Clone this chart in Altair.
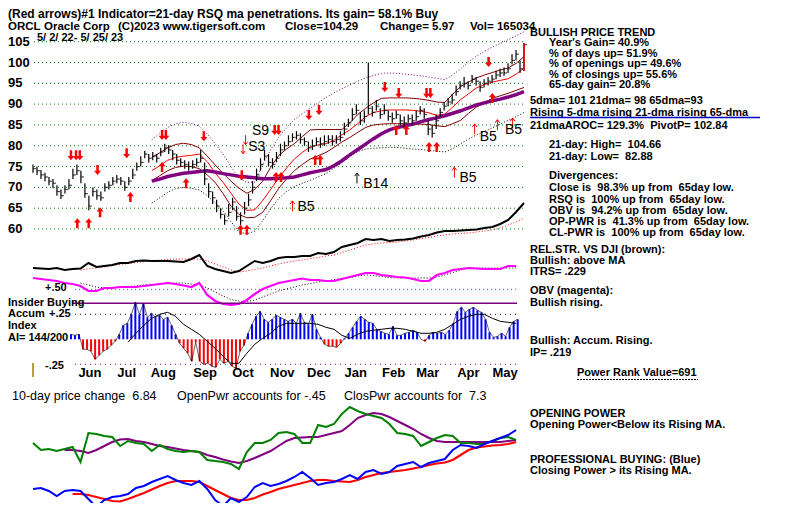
import altair as alt
import pandas as pd

# ------------------------------------------------------------------ data
START = "2022-05-02"
END = "2023-05-25"

CLOSE = [74.5, 74, 73, 72.5, 71.5, 71, 69, 68, 69.5, 70.5,
         73, 74, 72.5, 68.5, 65.5, 69, 68, 67.5, 70, 70.5,
         71.5, 72, 71.5, 70, 71.5, 73, 75, 76, 78, 77,
         77.5, 77, 78.5, 79.5, 79, 78, 76.5, 76, 75.5, 75,
         75.5, 76, 77, 72, 69, 67.5, 65.5, 63.5, 62, 64,
         66.5, 63, 62, 65, 67, 70, 73, 75.5, 77.5, 76,
         75.5, 77, 79, 80, 81, 82, 82.5, 81.5, 81, 79.5,
         80, 81, 80.5, 81, 81.5, 81, 81.5, 82, 84, 85.5,
         87.5, 88.5, 86, 87, 89, 88, 89.5, 87.5, 88.5, 87,
         86.5, 87.5, 86, 85.5, 86.5, 86, 87, 88.5, 87.5, 84,
         83, 86, 88, 89.5, 90.5, 91, 93, 94.5, 95, 94.5,
         96, 95.5, 94, 95, 95.5, 96, 97, 97.5, 97.5, 98.5,
         100.5, 102, 98.5, 104.29]
HIGH = [75.5, 75, 74.2, 73.5, 72.5, 72, 70.5, 69.5, 70.5, 72,
        74.5, 75.5, 74, 71, 68, 70, 69.5, 69, 71, 71.5,
        72.5, 73, 72.5, 71.5, 72.5, 74.5, 76, 77.5, 78.8, 78,
        78.5, 78, 79.5, 80.5, 80.2, 79, 78, 77, 76.5, 76.2,
        76.5, 77, 79, 76, 71, 69, 67, 65, 63.5, 66,
        67.5, 65.5, 64, 66.5, 68.5, 71.5, 74.5, 77, 79, 78,
        77, 78.5, 80.5, 81, 82.5, 83, 83.5, 83, 82, 81,
        81.5, 82, 82, 82.5, 82.5, 82.5, 82.5, 83.5, 85.5, 86.5,
        89, 90, 88, 88.5, 100, 89.5, 91, 89, 90, 88.5,
        88, 88.5, 87.5, 87, 87.5, 87.5, 88.5, 89.5, 89, 86,
        85, 87.5, 89, 90.5, 91.5, 92.5, 94.5, 95.5, 96.5, 95.5,
        97, 96.5, 95.5, 96, 96.5, 97, 98, 98.5, 98.8, 99.8,
        102, 103, 100.5, 104.66]
LOW = [73.5, 73, 72, 71.5, 70.5, 69.8, 68, 67.2, 68.5, 69.5,
       72, 73, 71, 67.5, 64.5, 67.8, 67, 66.8, 69, 69.5,
       70.5, 71, 70.5, 69.2, 70.5, 72, 74, 75, 77, 76,
       76.5, 76, 77.5, 78.5, 78, 76.5, 75.5, 75, 74.5, 74,
       74.5, 75, 76, 70.5, 67.5, 66, 64, 62.5, 61, 63,
       64.5, 62, 61, 63.5, 65.5, 68.5, 71.5, 74, 76.5, 75,
       74.5, 76, 77.5, 79, 80, 81, 81.5, 80.5, 80, 78.5,
       79, 80, 79.5, 80, 80.5, 80, 80.5, 81, 82.5, 84.5,
       86, 87.5, 85, 85.5, 87.5, 87, 88.5, 86.5, 87.5, 86,
       85.5, 86.5, 85, 84.5, 85.5, 85, 86, 87.5, 86.5, 82.5,
       82, 84, 87, 88.5, 89.5, 90, 92, 93.5, 94, 93.5,
       95, 94.5, 93, 94, 94.5, 95, 96, 96.5, 96.8, 97.5,
       99.5, 100.5, 97.5, 98]

MA65 = [71.5, 72.0, 72.6, 73.0, 73.4, 73.6, 73.8, 74.0, 73.7, 73.3,
        73.0, 72.7, 72.5, 72.3, 72.1, 72.1, 72.2, 72.3, 72.5, 73.0,
        73.5, 73.9, 74.3, 75.2, 76.4, 77.8, 79.1, 80.4, 81.7, 82.9,
        83.8, 84.4, 84.8, 85.2, 85.8, 86.3, 86.7, 87.2, 87.8, 88.4,
        89.1, 89.8, 90.3, 90.8, 91.2, 91.7, 92.3, 93.0]
MID = [74.0, 75.2, 76.5, 77.2, 77.5, 77.7, 78.0, 76.2, 73.5, 71.2,
       68.6, 66.0, 64.5, 64.6, 66.8, 69.5, 72.2, 74.6, 76.8, 78.4,
       79.7, 80.2, 80.5, 81.3, 82.6, 83.8, 85.3, 87.0, 88.0, 88.4,
       88.6, 88.6, 88.6, 88.5, 88.3, 87.9, 87.3, 87.6, 89.3, 91.1,
       92.5, 93.9, 94.7, 95.3, 95.7, 96.1, 97.2, 98.6]
UP1 = [77.2, 78.3, 79.5, 80.3, 80.6, 80.3, 79.5, 77.5, 75.4, 73.4,
       71.5, 69.8, 68.6, 69.5, 71.5, 74.8, 77.6, 79.2, 80.5, 82.2,
       83.8, 83.9, 83.9, 83.9, 83.9, 85.5, 87.5, 89.0, 90.3, 91.4,
       91.5, 91.5, 91.5, 91.4, 91.2, 90.9, 90.5, 90.4, 92.4, 94.2,
       95.3, 96.3, 97.0, 97.6, 98.2, 98.7, 99.8, 101.4]
LO1 = [71.6, 72.8, 74.0, 74.8, 75.1, 75.0, 74.5, 73.0, 71.2, 68.5,
       65.5, 63.5, 62.7, 62.8, 64.0, 66.8, 69.7, 72.0, 74.0, 75.5,
       76.8, 77.6, 78.4, 79.6, 80.9, 82.0, 83.2, 84.4, 85.0, 85.2,
       85.3, 85.3, 85.3, 85.2, 85.2, 85.1, 84.8, 84.6, 85.3, 86.1,
       87.8, 89.3, 90.3, 91.4, 92.0, 92.6, 93.3, 94.0]
UP2 = [81.4, 83.0, 84.4, 85.3, 85.6, 85.4, 84.7, 82.8, 80.5, 78.0,
       75.0, 72.2, 71.2, 71.3, 75.5, 79.0, 82.0, 84.3, 86.3, 87.7,
       89.0, 90.3, 91.6, 92.7, 93.7, 94.6, 95.5, 96.3, 96.9, 97.4,
       97.5, 97.4, 97.2, 97.0, 96.8, 96.5, 96.2, 95.9, 97.0, 98.5,
       100.2, 101.5, 102.7, 103.7, 104.6, 105.5, 106.4, 107.4]
LO2 = [66.2, 67.5, 68.8, 69.7, 70.0, 69.8, 69.4, 68.0, 66.3, 64.4,
       61.8, 59.3, 58.8, 59.5, 62.0, 64.8, 67.3, 69.0, 70.2, 71.0,
       71.7, 72.5, 73.3, 74.6, 75.9, 77.4, 78.6, 79.2, 79.4, 79.5,
       79.6, 79.6, 79.4, 79.2, 79.1, 78.9, 78.7, 78.5, 79.3, 80.5,
       81.6, 82.6, 83.4, 84.3, 85.2, 86.1, 87.0, 88.0]

RS = [12, 11.5, 11, 12, 10, 11, 11.5, 17, 13, 14,
      15, 17, 17, 19, 19.5, 19, 19, 19, 18.5, 18,
      21, 25, 14, 11, 9, 7, 9, 14, 19, 17,
      19, 22, 23, 23, 24, 24, 27, 26, 28, 33,
      35, 37, 41, 40, 41, 39, 40, 40.5, 41.5, 43.5,
      45, 47.5, 49, 49, 49.5, 50, 50.5, 52, 53, 56,
      60, 68, 77]
RS_MA = [10, 11, 12, 13, 14.5, 15.5, 16.5, 17.5, 18.5, 19.5,
         20, 20.5, 21, 21, 21, 21, 19, 16, 13, 10,
         8, 9, 10.5, 12, 14, 16, 17.5, 19, 20, 21.5,
         22.5, 24, 25, 27.5, 30, 32.5, 35, 36, 37, 37.5,
         38, 39, 40, 41.5, 42.5, 44, 45, 46, 46.5, 47,
         48, 49, 50, 52, 55, 58, 62]
OBV = [42, 41, 40, 39, 37, 36, 34, 29, 29, 32,
       32, 33, 33, 33, 34, 35, 36, 37, 36, 34.5,
       33, 37, 25, 19, 16, 15, 16, 20, 26, 31,
       34, 37, 38.5, 40, 41.5, 40, 40, 39, 39, 41,
       43, 45, 47, 47, 45, 44, 43, 42.5, 41, 39,
       39, 45, 47, 50, 51, 52, 51.5, 51, 51, 51,
       54, 54]
OBV_MA = [37, 35, 33, 32, 32.5, 33, 33.5, 34, 35, 35.5,
          36, 36.5, 37, 37, 36, 35, 32, 28, 24, 20.5,
          19, 18, 20, 23, 26, 29, 31, 33, 35, 36.5,
          38, 39, 40.5, 41.5, 42.5, 44, 45, 44.5, 43.5, 42.5,
          42, 42, 42, 42, 42, 43, 45, 47.5, 50, 52,
          52, 52, 52, 52, 52, 52]
AI = [0.05, 0.04, 0.05, -0.1, -0.1, -0.12, -0.2, -0.16, -0.12, -0.1,
      -0.06, -0.02, 0.05, 0.14, 0.16, 0.25, 0.37, 0.25, 0.36, 0.22,
      0.26, 0.22, 0.24, 0.2, 0.22, 0.14, 0.05, -0.04, -0.09, -0.14,
      -0.22, -0.03, -0.22, -0.25, -0.24, -0.27, -0.28, -0.2, -0.24, -0.22,
      -0.27, -0.29, -0.12, -0.06, 0.06, 0.15, 0.23, 0.28, 0.2, 0.17,
      0.2, 0.24, 0.22, 0.2, 0.18, 0.2, 0.16, 0.26, 0.17, 0.15,
      0.25, 0.1, 0.02, -0.05, -0.07, -0.07, -0.08, -0.04, 0.01, 0.06,
      0.12, 0.18, 0.23, 0.2, 0.17, 0.16, 0.1, 0.08, 0.06, 0.05,
      0.13, 0.04, 0.04, 0.06, 0.07, 0.09, 0.07, 0.0, -0.02, 0.04,
      0.07, 0.06, 0.07, 0.05, 0.09, 0.16, 0.28, 0.32, 0.27, 0.3,
      0.32, 0.29, 0.27, 0.2, 0.07, 0.02, 0.03, 0.06, 0.03, 0.12,
      0.18, 0.2]
AI_MA = [-0.03, 0.06, 0.14, 0.21, 0.25, 0.27, 0.23, 0.15, 0.1, 0.05,
         -0.02, -0.09, -0.17, -0.24, -0.24, -0.14, -0.05, 0.01, 0.06, 0.13,
         0.16, 0.16, 0.16, 0.16, 0.15, 0.12, 0.1, 0.04, 0.01, 0.05,
         0.08, 0.09, 0.1, 0.11, 0.11, 0.1, 0.08, 0.06, 0.06, 0.07,
         0.1, 0.15, 0.2, 0.23, 0.25, 0.25, 0.21, 0.18, 0.17, 0.16]
OP = [77, 70, 71, 69, 71, 73, 58, 87, 86, 84,
      83, 74, 79, 77, 76, 69, 75, 71, 69, 68,
      69, 68, 60, 59, 58, 56, 51, 68, 77, 77,
      80, 87, 88, 86, 77, 77, 95, 93, 96, 106,
      113, 109, 106, 104, 102, 96, 87, 86, 84, 74,
      78, 82, 85, 84, 77, 77, 76, 76, 79, 82,
      83, 80]
OP_MA = [70, 70, 69, 67, 70, 74, 78, 80.5, 81, 79,
         78, 76, 74, 73, 71.5, 70, 69, 68, 65, 63,
         60.5, 58.5, 57, 59, 62, 65.5, 69, 74, 79, 82,
         82.5, 83, 83, 85, 87, 89, 95, 102, 105, 107,
         106, 103, 99, 95, 91, 86, 82, 79, 78, 78,
         78, 78, 78, 78, 78, 78, 79, 80]
CP = [31, 32, 29, 24, 29, 30, 29, 21, 13, 20,
      23, 24, 26, 32, 34, 38, 41, 44, 40, 37,
      35, 39, 31, 20, 14, 22, 18, 23, 33, 37,
      34, 36, 39, 43, 48, 42, 35, 37, 38, 41,
      45, 41, 48, 50, 46, 48, 54, 56, 58, 53,
      57, 59, 61, 70, 75, 74, 72, 76, 79, 82,
      85, 90]
CP_MA = [26, 26, 25, 23, 21, 19, 18.5, 21, 24, 27,
         30.5, 34, 37, 39, 39, 39, 38, 34, 30, 26,
         22, 20, 20, 22, 25.5, 28, 31, 33, 35, 37,
         39, 40, 40, 39, 38.5, 38, 40, 43, 45, 47,
         48, 49, 50, 51.5, 53, 55, 56.5, 57.5, 60, 65,
         70, 72.5, 73.5, 74.5, 75, 76, 78]

DOWN_DATES = ["2022-06-01", "2022-06-05", "2022-06-08", "2022-06-22", "2022-07-15",
              "2022-08-12", "2022-08-15", "2022-09-14", "2022-10-14", "2022-11-09",
              "2022-11-12", "2022-12-06", "2022-12-14", "2023-02-04", "2023-02-15",
              "2023-03-09", "2023-03-12", "2023-04-27"]
DOWN_PRICES = [77.7, 77.7, 77.7, 74.2, 78.2, 82.6, 82.6, 82.3, 72.9, 83.8,
               83.8, 87.4, 88.6, 94.1, 92.7, 92.7, 92.7, 100.1]
UP_DATES = ["2022-06-06", "2022-06-15", "2022-06-24", "2022-07-18", "2022-08-12",
            "2022-08-31", "2022-10-13", "2022-10-18", "2022-11-10", "2022-11-14",
            "2022-12-11", "2022-12-15", "2023-02-13", "2023-02-21", "2023-03-11",
            "2023-03-17", "2023-04-30"]
UP_PRICES = [61.4, 61.4, 64.0, 67.7, 74.9, 71.0, 59.8, 59.8, 72.5, 72.5,
             76.6, 76.6, 83.8, 83.8, 79.7, 79.7, 91.5]
THIN_DOWN_DATES = ["2022-10-17", "2022-10-15"]
THIN_DOWN_PRICES = [81.4, 79.2]
THIN_UP_DATES = ["2022-11-23", "2023-03-31", "2023-04-16", "2023-05-04", "2023-05-16"]
THIN_UP_PRICES = [65.5, 73.6, 84.0, 85.0, 85.4]
THIN_UP_BLACK_DATES = ["2023-01-13"]
THIN_UP_BLACK_PRICES = [72.2]
SIG_TEXT = ["S9", "S3", "B14", "B5", "B5", "B5", "B5"]
SIG_DATES = ["2022-10-22", "2022-10-19", "2023-01-18", "2022-11-27", "2023-04-04",
             "2023-04-20", "2023-05-10"]
SIG_PRICES = [83.5, 79.7, 70.8, 65.3, 72.2, 82.1, 83.8]

PRICE_TICKS = [60, 65, 70, 75, 80, 85, 90, 95, 100, 105]
MONTHS = ["Jun", "Jul", "Aug", "Sep", "Oct", "Nov", "Dec", "Jan", "Feb", "Mar", "Apr", "May"]
MONTH_DATES = ["2022-06-16", "2022-07-15", "2022-08-13", "2022-09-15", "2022-10-15",
               "2022-11-15", "2022-12-14", "2023-01-12", "2023-02-11", "2023-03-10",
               "2023-04-11", "2023-05-10"]

TITLE1 = "(Red arrows)#1 Indicator=21-day RSQ ma penetrations. Its gain= 58.1% Buy"
TITLE2 = ["ORCL", "Oracle Corp", "(C)2023 www.tigersoft.com", "Close=", "104.29",
          "Change= 5.97", "Vol= 165034"]
DATE_SPAN = "5/ 2/ 22- 5/ 25/ 23"
S2 = "\u00a0 "
RIGHT_LINES = [
    "BULLISH PRICE TREND",
    "Year's Gain= 40.9%",
    "% of days up= 51.9%",
    "% of openings up= 49.6%",
    "% of closings up= 55.6%",
    "65-day gain= 20.8%",
    "5dma= 101 21dma= 98 65dma=93",
    "Rising 5-dma rising 21-dma rising 65-dma",
    "21dmaAROC= 129.3%" + S2 + "PivotP= 102.84",
    "21-day: High=" + S2 + "104.66",
    "21-day: Low=" + S2 + "82.88",
    "Divergences:",
    "Close is" + S2 + "98.3% up from" + S2 + "65day low.",
    "RSQ is" + S2 + "100% up from" + S2 + "65day low.",
    "OBV is" + S2 + "94.2% up from" + S2 + "65day low.",
    "OP-PWR is" + S2 + "41.3% up from" + S2 + "65day low.",
    "CL-PWR is" + S2 + "100% up from" + S2 + "65day low.",
    "REL.STR. VS DJI (brown):",
    "Bullish: above MA",
    "ITRS= .229",
    "OBV (magenta):",
    "Bullish rising.",
    "Bullish: Accum. Rising.",
    "IP= .219",
    "Power Rank Value=691",
    "OPENING POWER",
    "Opening Power<Below its Rising MA.",
    "PROFESSIONAL BUYING: (Blue)",
    "Closing Power > its Rising MA.",
]
LEFT_LINES = ["Insider Buying", "Accum", "Index", "AI= 144/200"]
AI_LEVEL_TEXT = ["+.50", "+.25", "-.25"]
AI_LEVELS = [0.5, 0.25, -0.25]
INSIDER_LEVEL = 0.36
BOTTOM_LINES = ["10-day price change" + S2 + "6.84",
                "OpenPwr accounts for -.45",
                "ClosPwr accounts for" + S2 + "7.3"]

# ------------------------------------------------------------------ helpers
T0 = pd.Timestamp(START)


def days(dates):
    return [(pd.Timestamp(t) - T0) / pd.Timedelta(days=1) for t in dates]


G124 = pd.date_range(START, END, periods=124)
G63 = pd.date_range(START, END, periods=63)
GAI = pd.date_range("2022-06-01", "2023-05-20", periods=112)
SPAN = days([END])[0]

XS = alt.Scale(domain=[0, SPAN], range=[25, 516], nice=False, zero=False)


def X(f="d"):
    return alt.X(f"{f}:Q", scale=XS, axis=None)


def yscale(dom, rng):
    return alt.Scale(domain=dom, range=rng, nice=False, zero=False)


PY = yscale([60, 105], [221, 33.7])
RSY = yscale([0, 100], [272, 172])
OBVY = yscale([0, 100], [312, 212])
AIY = yscale([-0.5, 0.5], [381.3, 281.3])
PWY = yscale([0, 120], [512, 392])

SANS = "Liberation Sans, Arial, sans-serif"
ONE = pd.DataFrame({"a": [0]})


def line(dates, vals, ys, color, width=1.0, dash=None):
    df = pd.DataFrame({"d": days(dates), "v": vals})
    props = dict(color=color, strokeWidth=width)
    if dash:
        props["strokeDash"] = dash
    return alt.Chart(df).mark_line(**props).encode(
        x=X(), y=alt.Y("v:Q", scale=ys, axis=None))


def hrule(levels, d0, d1, ys, color, width=1.0, dash=None):
    df = pd.DataFrame({"lv": levels, "a": [d0] * len(levels), "b": [d1] * len(levels)})
    props = dict(color=color, strokeWidth=width)
    if dash:
        props["strokeDash"] = dash
    return alt.Chart(df).mark_rule(**props).encode(
        x=X("a"), x2="b:Q", y=alt.Y("lv:Q", scale=ys, axis=None))


def label(t, x, y, size=11, weight="bold", font=SANS, align="left", color="black"):
    return alt.Chart(ONE).mark_text(
        text=t, align=align, baseline="middle", font=font, fontSize=size,
        fontWeight=weight, color=color).encode(x=alt.value(x), y=alt.value(y))


def arrows(dates, prices, shape, color, size, filled=True, width=1.0):
    df = pd.DataFrame({"d": days(dates), "p": prices})
    return alt.Chart(df).mark_point(
        shape=shape, filled=filled, size=size, color=color, opacity=1,
        strokeWidth=(0 if filled else width)).encode(
        x=X(), y=alt.Y("p:Q", scale=PY, axis=None))


DOWN_THICK = "M-0.25,-1L0.25,-1L0.25,0.15L0.7,0.15L0,1L-0.7,0.15L-0.25,0.15Z"
UP_THICK = "M-0.25,1L0.25,1L0.25,-0.15L0.7,-0.15L0,-1L-0.7,-0.15L-0.25,-0.15Z"
THIN_UP = "M0,1L0,-1M-0.45,-0.4L0,-1L0.45,-0.4"
THIN_DOWN = "M0,-1L0,1M-0.45,0.4L0,1L0.45,0.4"

layers = []

# price grid + labels
layers.append(hrule(PRICE_TICKS, 0.8, SPAN, PY, "#008000", 1, [1, 3]))
tick_df = pd.DataFrame({"lv": PRICE_TICKS, "t": [str(v) for v in PRICE_TICKS]})
layers.append(alt.Chart(tick_df).mark_text(
    align="left", baseline="middle", font=SANS, fontSize=13, fontWeight="bold",
    color="black").encode(x=alt.value(0), y=alt.Y("lv:Q", scale=PY, axis=None), text="t:N"))

# bands
band_dates = G63[15:]
layers.append(line(band_dates, UP2, PY, "#800080", 1, [1, 2]))
layers.append(line(band_dates, LO2, PY, "#000000", 1, [1, 2]))
layers.append(line(band_dates, UP1, PY, "#800000", 1))
layers.append(line(band_dates, LO1, PY, "#800000", 1))
layers.append(line(band_dates, MID, PY, "#ff0000", 1))
layers.append(line(band_dates, MA65, PY, "#800080", 3.5))

# price bars
price = pd.DataFrame({"d": days(G124), "h": HIGH, "l": LOW, "c": CLOSE,
                      "k": list(range(len(CLOSE)))})
last_k = len(CLOSE) - 1
layers.append(alt.Chart(price).mark_rule(color="black", strokeWidth=1.2).encode(
    x=X(), y=alt.Y("l:Q", scale=PY, axis=None), y2="h:Q"))
layers.append(alt.Chart(price).mark_tick(
    color="black", orient="horizontal", size=3, thickness=1.2, xOffset=1.5).encode(
    x=X(), y=alt.Y("c:Q", scale=PY, axis=None)))
layers.append(alt.Chart(price).transform_filter(f"datum.k == {last_k}").mark_rule(
    color="#ff0000", strokeWidth=1.5).encode(
    x=X(), y=alt.Y("l:Q", scale=PY, axis=None), y2="h:Q"))

# arrows and signals
layers.append(arrows(DOWN_DATES, DOWN_PRICES, DOWN_THICK, "#ff0000", 100))
layers.append(arrows(UP_DATES, UP_PRICES, UP_THICK, "#ff0000", 100))
layers.append(arrows(THIN_DOWN_DATES, THIN_DOWN_PRICES, THIN_DOWN, "#ff0000", 90, False))
layers.append(arrows(THIN_UP_DATES, THIN_UP_PRICES, THIN_UP, "#ff0000", 110, False))
layers.append(arrows(THIN_UP_BLACK_DATES, THIN_UP_BLACK_PRICES, THIN_UP, "#000000", 110, False))
sig = pd.DataFrame({"d": days(SIG_DATES), "p": SIG_PRICES, "t": SIG_TEXT})
layers.append(alt.Chart(sig).mark_text(
    align="left", baseline="middle", font=SANS, fontSize=14, fontWeight="normal",
    color="black").encode(x=X(), y=alt.Y("p:Q", scale=PY, axis=None), text="t:N"))

# relative strength + OBV
layers.append(line(G63[6:], RS_MA, RSY, "#ff0000", 1, [1, 2]))
layers.append(line(G63, RS, RSY, "#000000", 2))
layers.append(hrule([AI_LEVELS[0]], 33.2, 382.5, AIY, "#ff00ff", 1, [1, 3]))
layers.append(line(G63[6:62], OBV_MA, OBVY, "#000000", 1, [1, 2]))
layers.append(line(G63[:62], OBV, OBVY, "#ff00ff", 2.2))

# accumulation index
layers.append(hrule([INSIDER_LEVEL], 30.8, 382.5, AIY, "#800080", 1.5))
layers.append(hrule([AI_LEVELS[1]], 33.2, 382.5, AIY, "#000000", 1, [1, 4]))
layers.append(hrule([AI_LEVELS[2]], 33.2, 382.5, AIY, "#800080", 1, [1, 4]))
ai_df = pd.DataFrame({"d": days(GAI), "v": AI})
layers.append(alt.Chart(ai_df).transform_calculate(z="0").mark_rule(strokeWidth=2).encode(
    x=X(), y=alt.Y("z:Q", scale=AIY, axis=None), y2="v:Q",
    color=alt.condition("datum.v > 0", alt.value("#0000ff"), alt.value("#ff0000"))))
layers.append(line(GAI, AI, AIY, "#000000", 0.6))
layers.append(line(G63[12:62], AI_MA, AIY, "#000000", 1))
olive = pd.DataFrame({"d": [0.0], "a": [-0.237], "b": [-0.377]})
layers.append(alt.Chart(olive).mark_rule(color="#a08000", strokeWidth=1.5).encode(
    x=X(), y=alt.Y("a:Q", scale=AIY, axis=None), y2="b:Q"))

# opening / closing power
layers.append(line(G63[4:62], OP_MA, PWY, "#800080", 2))
layers.append(line(G63[:62], OP, PWY, "#008000", 2))
layers.append(line(G63[5:62], CP_MA, PWY, "#ff0000", 2.2))
layers.append(line(G63[:62], CP, PWY, "#0000ff", 2))

# month labels
mdf = pd.DataFrame({"d": days(MONTH_DATES), "t": MONTHS})
layers.append(alt.Chart(mdf).mark_text(
    align="center", baseline="middle", font=SANS, fontSize=13, fontWeight="bold",
    color="black").encode(x=X(), y=alt.value(365), text="t:N"))

# ------------------------------------------------------------------ texts
layers.append(label(TITLE1, 0, 5.5, size=12))
t2x = [0, 36, 110, 277, 315, 372, 462]
for t, x in zip(TITLE2, t2x):
    layers.append(label(t, x, 18.5, size=11.5))
layers.append(label(DATE_SPAN, 29, 30, size=11))

R0, R1 = 522, 541
right_pos = [(R0, 24.5), (R1, 35), (R1, 45.5), (R1, 56), (R1, 66.5), (R1, 77),
             (R0, 93), (R0, 104.5), (R0, 118),
             (R1, 137), (R1, 149), (R1, 168), (R1, 180), (R1, 191.5), (R1, 203),
             (R1, 214), (R1, 225),
             (R0, 242), (R0, 253), (R0, 264),
             (R0, 283), (R0, 295),
             (R0, 333), (R0, 345),
             (569, 365),
             (R0, 406), (R0, 417), (R0, 452), (R0, 463)]
for t, (x, y) in zip(RIGHT_LINES, right_pos):
    layers.append(label(t, x, y))
layers.append(alt.Chart(ONE).mark_rule(color="#0000c0", strokeWidth=1.5).encode(
    x=alt.value(522), x2=alt.value(752), y=alt.value(109.5)))
layers.append(alt.Chart(ONE).mark_rule(color="black", strokeWidth=1, strokeDash=[2, 1]).encode(
    x=alt.value(569), x2=alt.value(690), y=alt.value(371.5)))

for t, y in zip(LEFT_LINES, [295, 306, 318, 330]):
    layers.append(label(t, 0, y))
for t, (x, y) in zip(AI_LEVEL_TEXT, [(37, 280), (41, 306), (37, 358)]):
    layers.append(label(t, x, y))

for t, x in zip(BOTTOM_LINES, [4, 169, 336]):
    layers.append(label(t, x, 388, size=12.5, weight="normal"))

chart = alt.layer(*layers).resolve_scale(y="independent").properties(
    width=784, height=495, padding=0,
    autosize=alt.AutoSizeParams(type="none"), background="white"
).configure_view(stroke=None)

chart.save("out.html", embed_options={"renderer": "svg", "actions": False})
